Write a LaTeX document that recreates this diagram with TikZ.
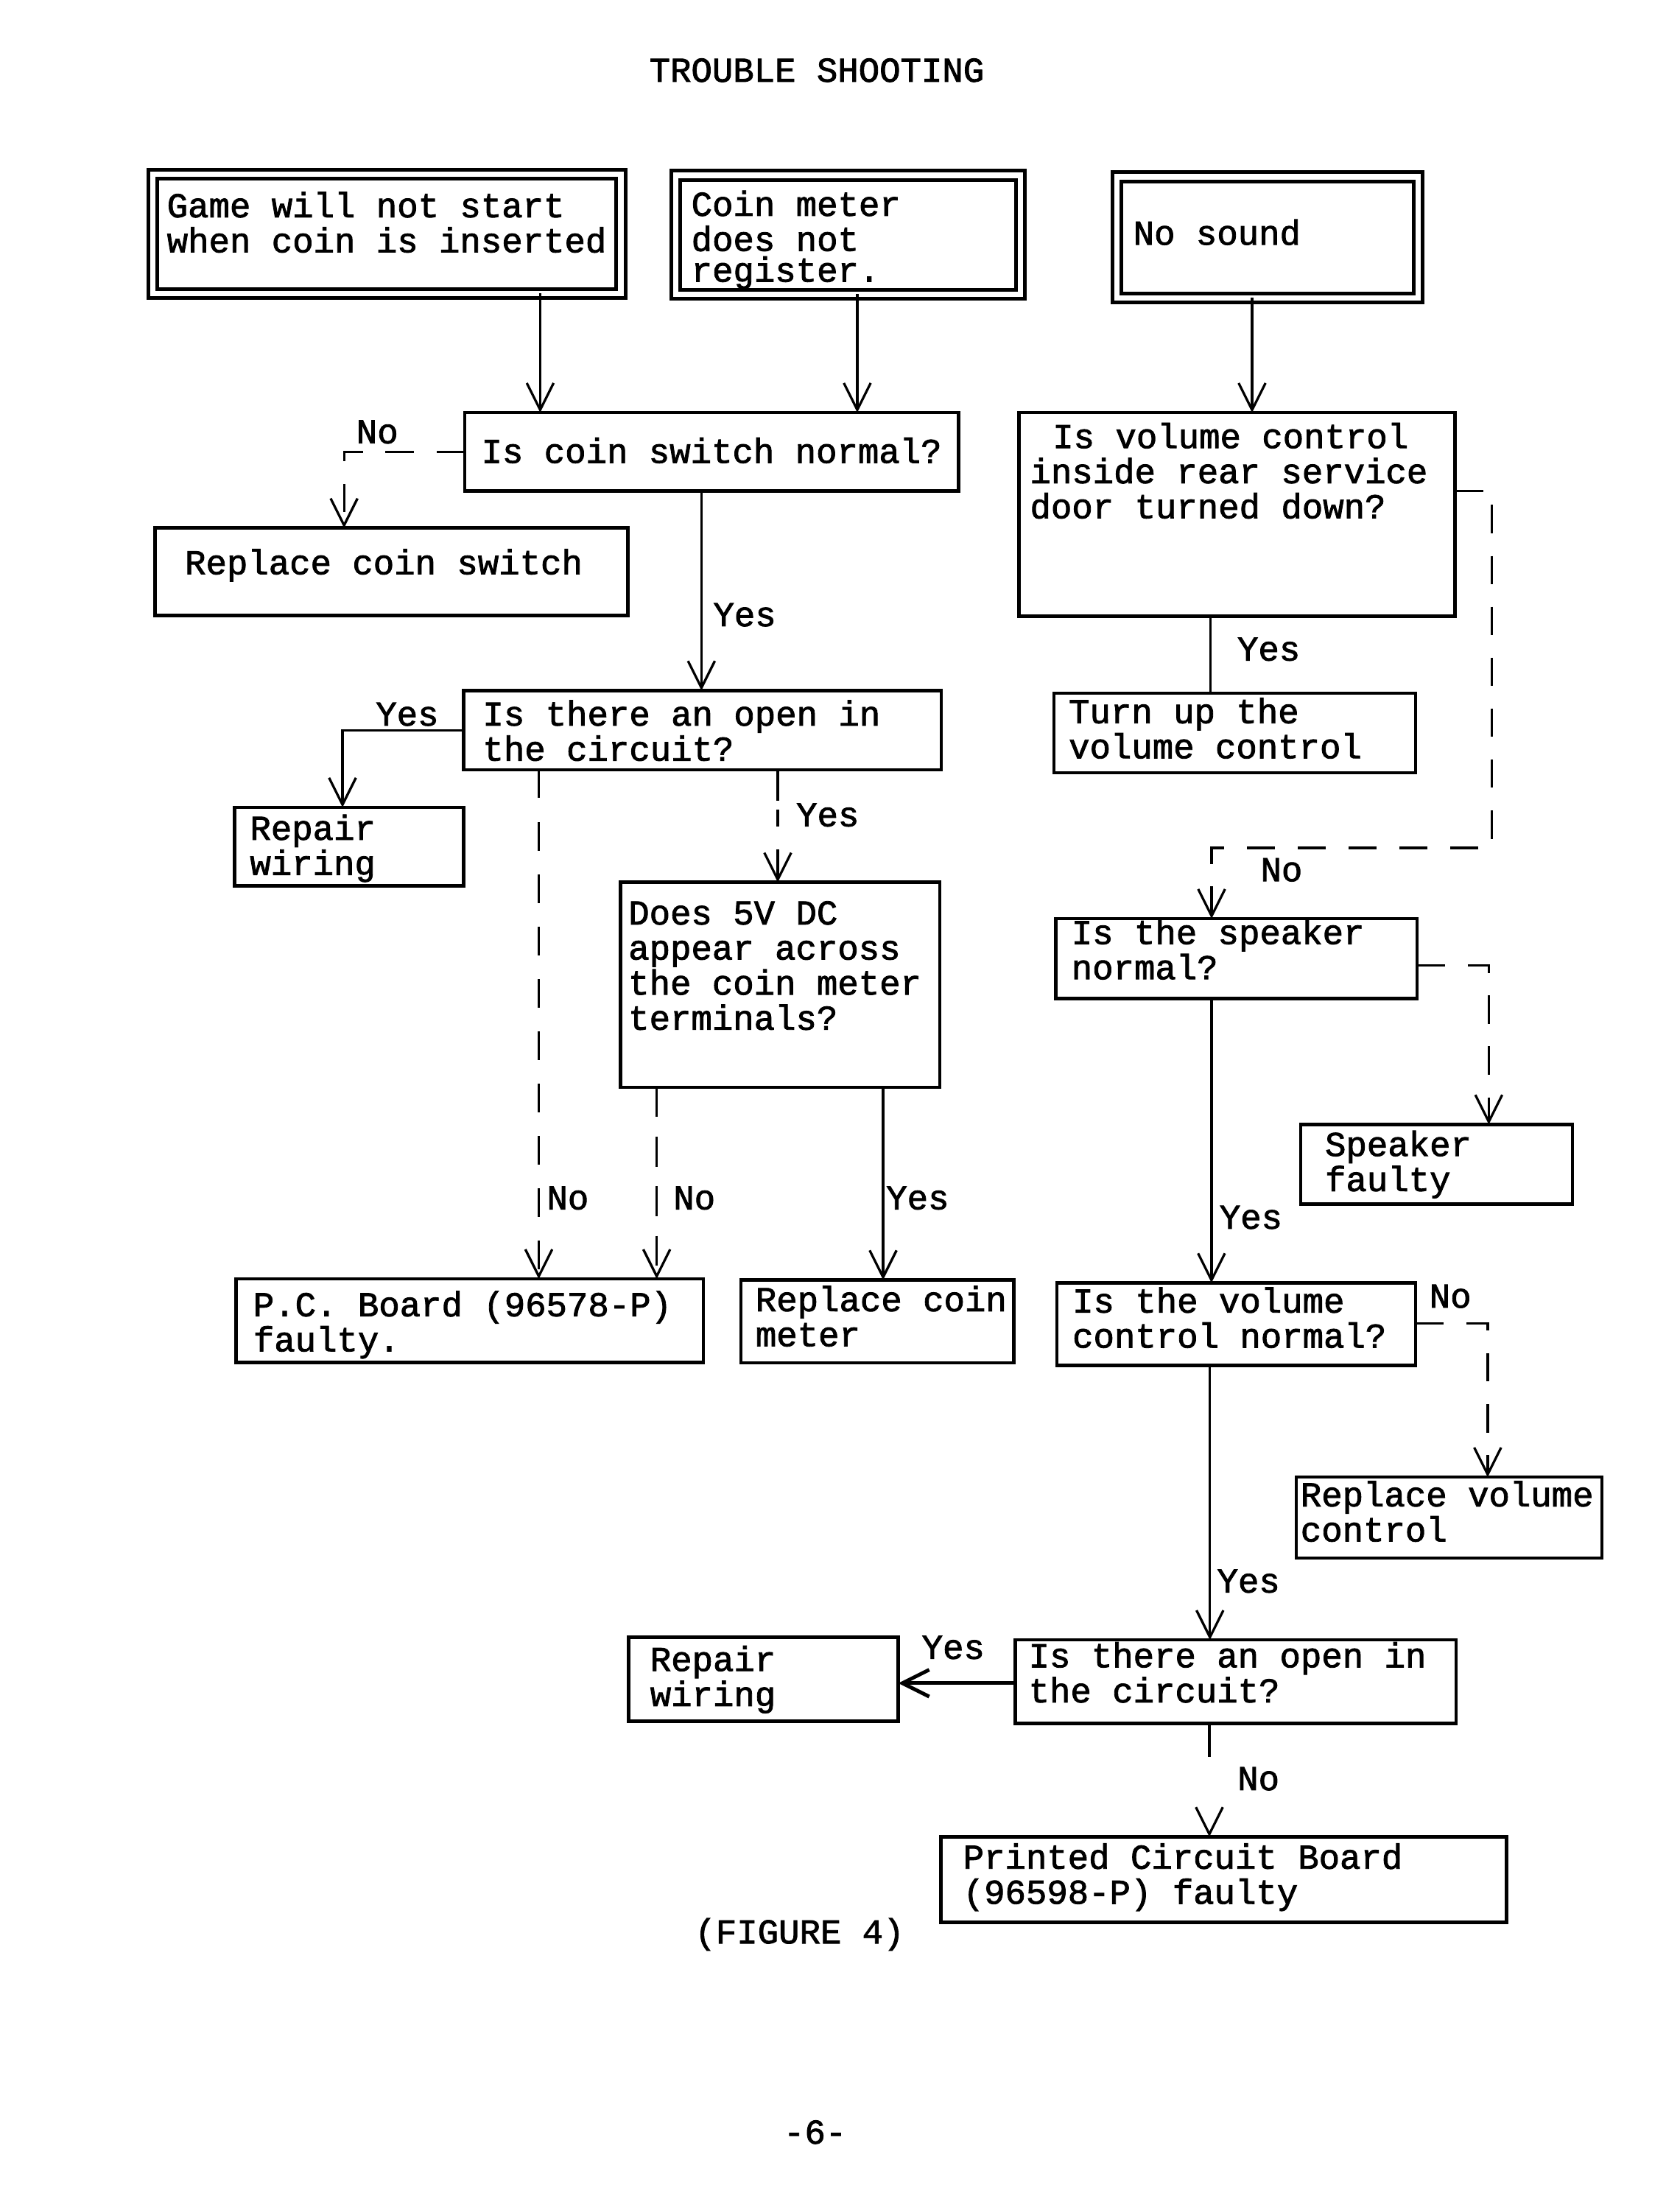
\documentclass[tikz,border=0pt]{standalone}
\usepackage{fontspec}
\setmainfont[FakeBold=1.8]{Liberation Mono}
\usetikzlibrary{arrows.meta,fit}
\newcommand\tw{\fontsize{12.33pt}{12.4pt}\selectfont}
\tikzset{
  bx/.style={draw, line width=1.2pt, inner sep=0pt, outer sep=0pt},
  dbx/.style={draw, line width=1.3pt, double, double distance=1.9pt, inner sep=0pt, outer sep=0pt},
  tx/.style={inner sep=0pt, anchor=base west, font=\tw},
  ln/.style={line width=0.85pt},
  ar/.style={ln, -{Straight Barb[length=9.5pt,width=9.5pt]}},
  ds/.style={dash pattern=on 10pt off 8pt},
}
\begin{document}
\begin{tikzpicture}[x=0.5pt,y=-0.5pt]
\useasboundingbox (0,0) rectangle (1188,1562.5);

% title
\node[tx] (title) at (458.8,57.8) {TROUBLE SHOOTING};

% top boxes
\node[dbx, fit={(108,123) (439,207.5)}] (b1) {};
\node[tx] (t1) at (117.7,153.6) {\vtop{\hbox{Game will not start}\hbox{when coin is inserted}}};
\node[dbx, fit={(478,124) (721.5,208)}] (b2) {};
\node[tx] (t2) at (488.5,152.6) {\vtop{\hbox{Coin meter}\hbox{does not}\vskip-1.5pt\hbox{register.}}};
\node[dbx, fit={(789.7,125) (1003,210.5)}] (b3) {};
\node[tx] (t3) at (801,173) {No sound};

% left column
\node[bx, fit={(328.6,291.7) (677.7,347.2)}] (q1) {};
\node[tx] (tq1) at (340,327.3) {Is coin switch normal?};
\node[bx, fit={(109.5,373.3) (444,435)}] (r1) {};
\node[tx] (tr1) at (130.4,406) {Replace coin switch};
\node[bx, fit={(327.9,488.2) (665.7,544.3)}] (q2) {};
\node[tx] (tq2) at (341,513) {\vtop{\hbox{Is there an open in}\hbox{the circuit?}}};
\node[bx, fit={(165.8,570.8) (327.9,626.4)}] (r2) {};
\node[tx] (tr2) at (176.4,593.75) {\vtop{\hbox{Repair}\hbox{wiring}}};
\node[bx, fit={(438.8,623.8) (664.6,768.75)}] (q3) {};
\node[tx] (tq3) at (444,653.6) {\vtop{\hbox{Does 5V DC}\hbox{appear across}\hbox{the coin meter}\hbox{terminals?}}};
\node[bx, fit={(167,904.2) (497.3,963.2)}] (r3) {};
\node[tx] (tr3) at (178.7,930.6) {\vtop{\hbox{P.C. Board (96578-P)}\hbox{faulty.}}};
\node[bx, fit={(524,904.9) (717,963.5)}] (r4) {};
\node[tx] (tr4) at (533.9,927) {\vtop{\hbox{Replace coin}\hbox{meter}}};

% right column
\node[bx, fit={(720.6,291.7) (1029,435.8)}] (v1) {};
\node[tx] (tv1) at (728,316.8) {\vtop{\hbox{\kern8pt Is volume control}\hbox{inside rear service}\hbox{door turned down?}}};
\node[bx, fit={(745.3,490) (1001,546.4)}] (v2) {};
\node[tx] (tv2) at (755.4,511.3) {\vtop{\hbox{Turn up the}\hbox{volume control}}};
\node[bx, fit={(746.7,649.5) (1002,706)}] (v3) {};
\node[tx] (tv3) at (757.3,667.5) {\vtop{\hbox{Is the speaker}\hbox{normal?}}};
\node[bx, fit={(919.8,795) (1112,851.4)}] (v4) {};
\node[tx] (tv4) at (936.6,817.3) {\vtop{\hbox{Speaker}\hbox{faulty}}};
\node[bx, fit={(747.4,907) (1001,965.3)}] (v5) {};
\node[tx] (tv5) at (758,928) {\vtop{\hbox{Is the volume}\hbox{control normal?}}};
\node[bx, fit={(916.7,1044.3) (1132.8,1101.6)}] (v6) {};
\node[tx] (tv6) at (919.3,1065) {\vtop{\hbox{Replace volume}\hbox{control}}};
\node[bx, fit={(718,1159.4) (1029.6,1218.4)}] (v7) {};
\node[tx] (tv7) at (727,1178.8) {\vtop{\hbox{Is there an open in}\hbox{the circuit?}}};
\node[bx, fit={(444.6,1157.6) (635.2,1217)}] (v8) {};
\node[tx] (tv8) at (459.4,1181.4) {\vtop{\hbox{Repair}\hbox{wiring}}};
\node[bx, fit={(665.5,1298.6) (1065.4,1359)}] (v9) {};
\node[tx] (tv9) at (680.7,1321.2) {\vtop{\hbox{Printed Circuit Board}\hbox{(96598-P) faulty}}};

\node[tx] (fig) at (491,1374) {(FIGURE 4)};
\node[tx] (page) at (553.8,1515.6) {-6-};

% labels
\node[tx] (l1) at (251.6,313.4) {No};
\node[tx] (l2) at (504,442.7) {Yes};
\node[tx] (l3) at (265.4,513) {Yes};
\node[tx] (l4) at (562.7,584.2) {Yes};
\node[tx] (l5) at (386.3,855) {No};
\node[tx] (l6) at (475.8,855) {No};
\node[tx] (l7) at (626.3,855) {Yes};
\node[tx] (l8) at (874.6,467) {Yes};
\node[tx] (l9) at (891,623) {No};
\node[tx] (l10) at (862,868.7) {Yes};
\node[tx] (l11) at (1010.4,924.5) {No};
\node[tx] (l12) at (860.3,1125.9) {Yes};
\node[tx] (l13) at (651.5,1172.8) {Yes};
\node[tx] (l14) at (874.7,1265.6) {No};

% connectors
\draw[ar] (382,0 |- b1.south) -- (382,0 |- q1.north);
\draw[ar] (606.2,0 |- b2.south) -- (606.2,0 |- q1.north);
\draw[ar] (885.4,0 |- b3.south) -- (885.4,0 |- v1.north);
\draw[ar, ds] (q1.west) -| (243.3,0 |- r1.north);
\draw[ar] (496,0 |- q1.south) -- (496,0 |- q2.north);
\draw[ar] (q2.west) -| (242.2,0 |- r2.north);
\draw[ar, dash pattern=on 10pt off 8.5pt] (381,0 |- q2.south) -- (381,0 |- r3.north);
\draw[ar, dash pattern=on 11pt off 3pt on 6pt off 8pt] (550,0 |- q2.south) -- (550,0 |- q3.north);
\draw[ar, dash pattern=on 10.5pt off 7pt] (464.4,0 |- q3.south) -- (464.4,0 |- r3.north);
\draw[ar] (624.5,0 |- q3.south) -- (624.5,0 |- r4.north);
\draw[ln] (856,0 |- v1.south) -- (856,0 |- v2.north);
\draw[ar, ds] (v1.east |- 0,347) -| (1055,599.5) -| (856.8,0 |- v3.north);
\draw[ar, ds] (v3.east |- 0,682.6) -| (1052.8,0 |- v4.north);
\draw[ar] (856.7,0 |- v3.south) -- (856.7,0 |- v5.north);
\draw[ar, ds] (v5.east |- 0,935.8) -| (1052,0 |- v6.north);
\draw[ar] (855.6,0 |- v5.south) -- (855.6,0 |- v7.north);
\draw[ar, line width=1.3pt] (v7.west |- 0,1190) -- (v8.east |- 0,1190);
\draw[ar, dash pattern=on 12pt off 28pt on 10pt off 8pt] (855.2,0 |- v7.south) -- (855.2,0 |- v9.north);
\end{tikzpicture}
\end{document}
